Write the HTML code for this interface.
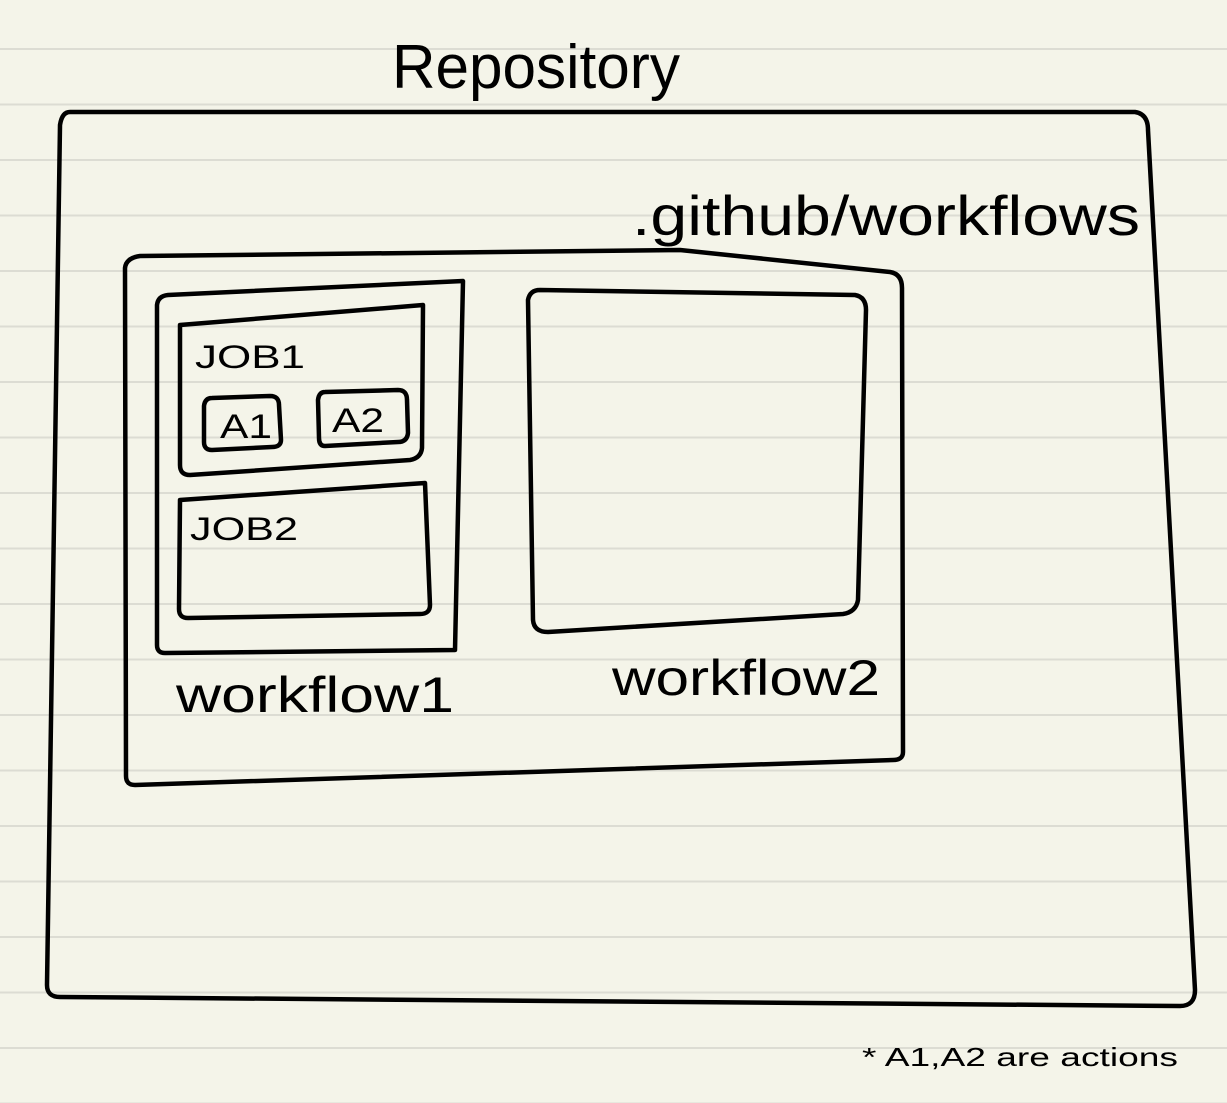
<!DOCTYPE html>
<html><head><style>
html,body{margin:0;padding:0;background:#f4f4e9;}
svg{display:block}
text{font-family:"Liberation Sans",sans-serif;fill:#000}
</style></head><body>
<svg width="1227" height="1103" xmlns="http://www.w3.org/2000/svg">
<defs>
<pattern id="ln" x="0" y="0" width="1227" height="55.5" patternUnits="userSpaceOnUse">
<rect x="0" y="48" width="1227" height="2" fill="#dcdcd3"/>
</pattern>
</defs>
<rect width="1227" height="1103" fill="#f4f4e9"/>
<rect width="1227" height="1103" fill="url(#ln)"/>
<g fill="none" stroke="#000" stroke-width="4.5" stroke-linejoin="round" stroke-linecap="round">
<path d="M70 112 L1135 112 Q1148 114 1148 130 L1195 990 Q1195 1006 1180 1006 L60 997 Q47 997 47 985 L60 125 Q62 112 70 112 Z"/>
<path d="M140 256 L680 250 L890 272 Q902 274 902 288 L903 752 Q903 760 893 760 L135 785 Q126 785 126 776 L125 268 Q126 258 140 256 Z"/>
<path d="M168 295 L463 281 L455 650 L165 653 Q157 653 157 645 L157 305 Q158 296 168 295 Z"/>
<path d="M180 325 L423 305 L422 448 Q421 458 410 460 L190 475 Q180 475 180 465 Z"/>
<path d="M212 398 L270 396 Q279 396 279 405 L281 440 Q281 447 272 447 L212 450 Q204 450 204 442 L204 406 Q205 398 212 398 Z"/>
<path d="M325 392 L398 390 Q407 390 407 400 L408 433 Q407 442 398 442 L325 446 Q319 446 319 438 L318 400 Q319 392 325 392 Z"/>
<path d="M180 500 L425 483 L430 605 Q430 614 420 614 L188 618 Q179 618 179 609 Z"/>
<path d="M540 290 L855 295 Q866 297 866 310 L858 600 Q856 612 843 614 L548 632 Q534 632 533 620 L528 300 Q530 290 540 290 Z"/>
</g>
<text x="392" y="88" font-size="62" textLength="288" lengthAdjust="spacingAndGlyphs">Repository</text>
<text x="632" y="235" font-size="56" textLength="508" lengthAdjust="spacingAndGlyphs">.github/workflows</text>
<text x="195" y="368" font-size="32" textLength="110" lengthAdjust="spacingAndGlyphs">JOB1</text>
<text x="220" y="438" font-size="34" textLength="52" lengthAdjust="spacingAndGlyphs">A1</text>
<text x="332" y="432" font-size="34" textLength="52" lengthAdjust="spacingAndGlyphs">A2</text>
<text x="190" y="540" font-size="32" textLength="108" lengthAdjust="spacingAndGlyphs">JOB2</text>
<text x="176" y="712" font-size="50" textLength="278" lengthAdjust="spacingAndGlyphs">workflow1</text>
<text x="612" y="695" font-size="50" textLength="268" lengthAdjust="spacingAndGlyphs">workflow2</text>
<text x="862" y="1066" font-size="26" textLength="316" lengthAdjust="spacingAndGlyphs">* A1,A2 are actions</text>
</svg>
</body></html>
